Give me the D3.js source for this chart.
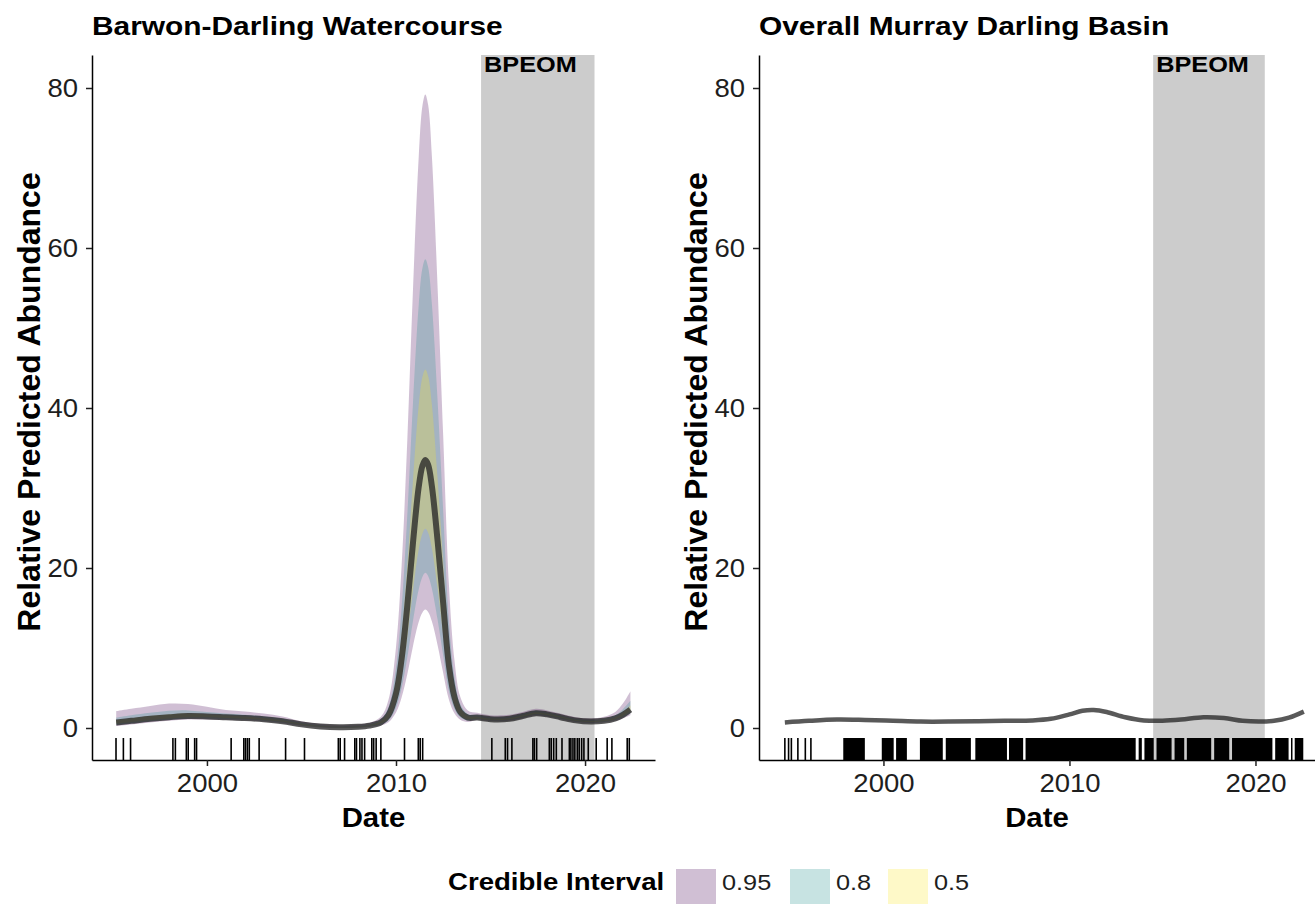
<!DOCTYPE html>
<html>
<head>
<meta charset="utf-8">
<script src="https://cdn.jsdelivr.net/npm/d3@7"></script>
<style>
  body { margin: 0; background: #fff; }
  text { font-family: "Liberation Sans", Arial, sans-serif; }
</style>
</head>
<body>
<script>
// ---- data ----
// Barwon-Darling: posterior median and credible bands
var years = [1995.2, 1996, 1997, 1998, 1999, 2000, 2001, 2002, 2003, 2004, 2005, 2006, 2007, 2008, 2008.6,
  2009.2, 2009.6, 2010.0, 2010.3, 2010.6, 2010.9, 2011.2, 2011.4, 2011.55, 2011.7, 2011.9, 2012.2, 2012.5, 2012.8, 2013.1, 2013.4, 2013.8,
  2014.3, 2015, 2016, 2016.7, 2017.4, 2018, 2018.7, 2019.5, 2020.3, 2021, 2021.6, 2022, 2022.4];
var med = [0.7, 0.9, 1.15, 1.35, 1.5, 1.45, 1.35, 1.25, 1.1, 0.85, 0.45, 0.2, 0.1, 0.15, 0.3,
  0.7, 1.6, 4.3, 8.7, 15.3, 23.2, 30.1, 32.8, 33.5, 32.9, 30.2, 23.4, 15.5, 7.8, 3.8, 2.0, 1.3,
  1.3, 1.1, 1.15, 1.5, 1.85, 1.7, 1.35, 0.95, 0.8, 0.9, 1.2, 1.65, 2.3];
var hi95 = [2.1, 2.4, 2.75, 3.05, 3.0, 2.65, 2.25, 2.05, 1.8, 1.45, 0.85, 0.5, 0.35, 0.45, 0.65,
  1.4, 3.5, 10.1, 20.4, 36.1, 54.9, 71.3, 77.8, 79.2, 77.9, 71.4, 55.1, 36.3, 17.9, 8.3, 3.9, 2.2,
  1.9, 1.6, 1.65, 2.0, 2.4, 2.2, 1.8, 1.35, 1.2, 1.4, 2.0, 3.05, 4.6];
var lo95 = [0.25, 0.45, 0.7, 0.9, 1.05, 1.05, 1.0, 0.93, 0.8, 0.6, 0.25, 0.07, 0, 0.02, 0.14,
  0.34, 0.72, 1.95, 3.85, 6.75, 10.25, 13.25, 14.45, 14.8, 14.5, 13.3, 10.35, 6.85, 3.53, 1.8, 1.03, 0.75,
  1.03, 0.86, 0.91, 1.23, 1.55, 1.4, 1.1, 0.75, 0.62, 0.7, 0.9, 1.2, 1.6];
var hi80 = [1.3, 1.6, 1.9, 2.15, 2.2, 2.0, 1.8, 1.65, 1.45, 1.15, 0.65, 0.35, 0.22, 0.3, 0.48,
  1.07, 2.6, 7.5, 15.1, 26.7, 40.7, 52.8, 57.5, 58.6, 57.6, 52.9, 40.9, 26.9, 13.3, 6.25, 3.0, 1.75,
  1.6, 1.35, 1.4, 1.75, 2.15, 1.95, 1.57, 1.15, 1.0, 1.15, 1.6, 2.35, 3.4];
var lo80 = [0.4, 0.6, 0.85, 1.05, 1.2, 1.2, 1.13, 1.05, 0.92, 0.7, 0.33, 0.11, 0.02, 0.06, 0.19,
  0.44, 0.94, 2.54, 5.04, 8.83, 13.4, 17.3, 18.9, 19.4, 19.0, 17.4, 13.55, 9.0, 4.6, 2.35, 1.33, 0.95,
  1.12, 0.95, 1.0, 1.32, 1.65, 1.5, 1.19, 0.82, 0.68, 0.76, 1.0, 1.35, 1.85];
var hi50 = [1.0, 1.2, 1.5, 1.7, 1.8, 1.7, 1.55, 1.43, 1.25, 0.97, 0.53, 0.26, 0.15, 0.21, 0.38,
  0.87, 2.05, 5.8, 11.6, 20.4, 31.0, 40.3, 43.9, 44.8, 44.0, 40.4, 31.2, 20.6, 10.3, 4.9, 2.5, 1.5,
  1.42, 1.2, 1.25, 1.6, 1.97, 1.8, 1.45, 1.03, 0.88, 1.0, 1.35, 1.95, 2.8];
var lo50 = [0.55, 0.75, 1.0, 1.2, 1.35, 1.33, 1.25, 1.15, 1.0, 0.77, 0.39, 0.15, 0.06, 0.1, 0.24,
  0.55, 1.2, 3.26, 6.5, 11.4, 17.2, 22.3, 24.3, 24.9, 24.4, 22.4, 17.4, 11.55, 5.9, 2.93, 1.6, 1.1,
  1.2, 1.02, 1.07, 1.4, 1.75, 1.6, 1.27, 0.88, 0.74, 0.83, 1.1, 1.5, 2.05];
// survey dates (rug) Barwon-Darling
var rugBD = [1995.19, 1995.58, 1995.96, 1998.20, 1998.33, 1998.91, 1999.01, 1999.35, 1999.45, 2001.28,
  2001.95, 2002.04, 2002.14, 2002.24, 2002.76, 2004.16, 2005.16, 2006.95, 2007.05, 2007.28, 2007.82,
  2007.91, 2008.09, 2008.20, 2008.34, 2008.72, 2008.82, 2008.95, 2009.20, 2010.45, 2011.18, 2011.28,
  2011.41, 2015.07, 2015.78, 2015.90, 2016.13, 2017.24, 2017.32, 2017.44, 2018.11, 2018.21, 2018.34,
  2018.48, 2018.78, 2019.17, 2019.25, 2019.36, 2019.46, 2019.59, 2019.69, 2019.82, 2019.94, 2020.17,
  2020.59, 2021.17, 2021.42, 2022.23, 2022.34];

// Overall Murray Darling Basin
var mdbYears = [1994.7, 1996, 1997.5, 1999, 2000.5, 2002, 2003.5, 2005, 2006.5, 2008, 2009, 2010, 2010.7,
  2011.3, 2012, 2013, 2014, 2015, 2016, 2017.2, 2018.3, 2019.3, 2020.2, 2021, 2021.8, 2022.6];
var mdbMed = [0.7, 0.9, 1.05, 1.0, 0.9, 0.8, 0.8, 0.85, 0.9, 0.95, 1.15, 1.7, 2.15,
  2.25, 2.0, 1.35, 0.95, 0.9, 1.05, 1.35, 1.25, 0.9, 0.8, 0.9, 1.3, 2.05];
// rug: single dates, then stretches so dense they merge into blocks [from, to]
var rugMDB = [1994.7, 1994.9, 1995.05, 1995.4, 1995.8, 1996.1];
var rugMDBBlocks = [[1997.84, 1999.0], [1999.91, 2000.55], [2000.68, 2001.26], [2001.96, 2003.19],
  [2003.35, 2004.7], [2004.94, 2006.64], [2006.75, 2007.51], [2007.64, 2013.56], [2013.72, 2013.89],
  [2014.03, 2014.53], [2014.68, 2015.49], [2015.65, 2016.17], [2016.31, 2017.62], [2017.78, 2018.59],
  [2018.74, 2020.91], [2021.06, 2021.78], [2021.91, 2021.99], [2022.11, 2022.57]];

var bpeom = [2014.5, 2020.5];
var ciLevels = ["0.95", "0.8", "0.5"];
var ciColors = ["#440154", "#21908C", "#FDE725"];
var xTicks = [2000, 2010, 2020];
var yTicks = [0, 20, 40, 60, 80];

// ---- layout ----  (note: "top" is reserved on window, so panelTop)
var W = 1315, H = 906;
var panelTop = 55, panelBottom = 760;
var tickStretch = 1.1;
var svg = d3.select("body").append("svg").attr("width", W).attr("height", H);

var y = d3.scaleLinear().domain([-4, 84.125]).range([panelBottom, panelTop]);
var curve = d3.curveCatmullRom.alpha(0.5);

// bold text, slightly stretched sideways like the source image
function label(parent, txt, x0, y0, size, sx, anchor) {
  return parent.append("g").attr("transform", "translate(" + x0 + "," + y0 + ") scale(" + sx + ",1)")
    .append("text").attr("font-size", size).attr("font-weight", "bold")
    .attr("text-anchor", anchor || "start").attr("fill", "#000").text(txt);
}

function drawPanel(p) {
  var x = d3.scaleLinear().domain(p.xDomain).range([p.left, p.right]);
  var g = svg.append("g");

  // BPEOM window
  g.append("rect")
    .attr("x", x(bpeom[0])).attr("y", panelTop)
    .attr("width", x(bpeom[1]) - x(bpeom[0])).attr("height", panelBottom - panelTop)
    .attr("fill", "#cccccc");

  // credible bands, widest first
  (p.bands || []).forEach(function (b, k) {
    var area = d3.area()
      .x(function (d) { return x(d); })
      .y0(function (d, i) { return y(b[0][i]); })
      .y1(function (d, i) { return y(b[1][i]); })
      .curve(curve);
    g.append("path").datum(p.years).attr("d", area)
      .attr("fill", ciColors[k]).attr("fill-opacity", 0.25);
  });

  // median
  var line = d3.line()
    .x(function (d) { return x(d); })
    .y(function (d, i) { return y(p.med[i]); })
    .curve(curve);
  g.append("path").datum(p.years).attr("d", line)
    .attr("fill", "none").attr("stroke", "#222").attr("stroke-opacity", 0.75)
    .attr("stroke-width", p.lw).attr("stroke-linecap", "butt");

  // rug
  g.selectAll(null).data(p.rug).enter().append("line")
    .attr("x1", function (d) { return x(d); }).attr("x2", function (d) { return x(d); })
    .attr("y1", panelBottom - 22).attr("y2", panelBottom)
    .attr("stroke", "#000").attr("stroke-width", 1.6);
  g.selectAll(null).data(p.rugBlocks || []).enter().append("rect")
    .attr("x", function (d) { return x(d[0]); })
    .attr("width", function (d) { return x(d[1]) - x(d[0]); })
    .attr("y", panelBottom - 22).attr("height", 22).attr("fill", "#000");

  // axes
  var ax = g.append("g").attr("transform", "translate(0," + panelBottom + ")")
    .call(d3.axisBottom(x).tickValues(xTicks).tickFormat(d3.format("d"))
      .tickSize(6).tickSizeOuter(0).tickPadding(8));
  var ay = g.append("g").attr("transform", "translate(" + p.left + ",0)")
    .call(d3.axisLeft(y).tickValues(yTicks).tickSize(6).tickSizeOuter(0).tickPadding(8));
  [ax, ay].forEach(function (a) {
    a.attr("font-size", 25).attr("font-family", "'Liberation Sans', Arial, sans-serif");
    a.select(".domain").attr("stroke", "#000").attr("stroke-width", 1.5);
    a.selectAll(".tick line").attr("stroke", "#222").attr("stroke-width", 1.5);
    a.selectAll(".tick text").attr("fill", "#1e1e1e")
      .attr("x", function () { return +this.getAttribute("x") / tickStretch; })
      .attr("transform", "scale(" + tickStretch + ",1)");
  });

  // texts
  label(g, "BPEOM", x(bpeom[0]) + 3, 72, 22, 1.15);
  label(g, p.title, p.left, 35, 26, 1.15);
  label(g, "Date", (p.left + p.right) / 2, 827, 28, 1.05, "middle");
  g.append("text")
    .attr("transform", "translate(" + (p.left - 52) + "," + 402 + ") rotate(-90)")
    .attr("text-anchor", "middle").attr("font-size", 32).attr("font-weight", "bold")
    .text("Relative Predicted Abundance");
}

drawPanel({
  title: "Barwon-Darling Watercourse",
  left: 92, right: 655, xDomain: [1993.92, 2023.7],
  years: years, med: med, lw: 6,
  bands: [[lo95, hi95], [lo80, hi80], [lo50, hi50]],
  rug: rugBD
});

drawPanel({
  title: "Overall Murray Darling Basin",
  left: 759, right: 1315, xDomain: [1993.31, 2023.2],
  years: mdbYears, med: mdbMed, lw: 4.5,
  rug: rugMDB, rugBlocks: rugMDBBlocks
});

// legend
var lg = svg.append("g");
label(lg, "Credible Interval", 448, 890, 23, 1.2);
var keyX = [676, 790, 888];
ciLevels.forEach(function (lev, k) {
  lg.append("rect").attr("x", keyX[k]).attr("y", 869).attr("width", 40).attr("height", 35)
    .attr("fill", ciColors[k]).attr("fill-opacity", 0.25);
  lg.append("g").attr("transform", "translate(" + (keyX[k] + 46) + ",890) scale(1.15,1)")
    .append("text").attr("font-size", 22).attr("fill", "#1e1e1e").text(lev);
});
</script>
</body>
</html>
